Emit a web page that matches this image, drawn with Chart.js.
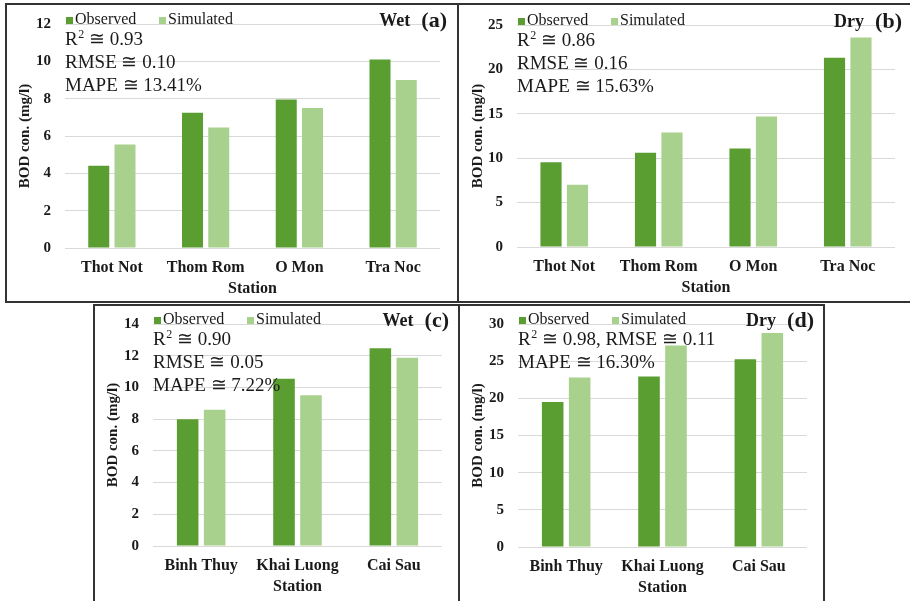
<!DOCTYPE html>
<html>
<head>
<meta charset="utf-8">
<script src="https://cdn.jsdelivr.net/npm/chart.js@4"></script>
<style>
  body { margin: 0; background: #fff; }
  #wrap { position: relative; width: 910px; height: 601px; overflow: hidden; }
  .frame { position: absolute; border: 2px solid #333; box-sizing: border-box; }
  canvas { position: absolute; }
</style>
</head>
<body>
<div id="wrap">
  <div class="frame" style="left:5px;top:3px;width:454px;height:300px"></div>
  <div class="frame" style="left:457px;top:3px;width:460px;height:300px"></div>
  <div class="frame" style="left:93px;top:304px;width:367px;height:302px"></div>
  <div class="frame" style="left:458px;top:304px;width:367px;height:302px"></div>
  <canvas id="chartA" width="450" height="296" style="left:7px;top:5px"></canvas>
  <canvas id="chartB" width="450" height="296" style="left:460px;top:5px"></canvas>
  <canvas id="chartC" width="363" height="295" style="left:95px;top:306px"></canvas>
  <canvas id="chartD" width="363" height="295" style="left:460px;top:306px"></canvas>
</div>
<script>
'use strict';

// data
const stationsTop = ['Thot Not', 'Thom Rom', 'O Mon', 'Tra Noc'];
const stationsBottom = ['Binh Thuy', 'Khai Luong', 'Cai Sau'];

const observedA = [4.4, 7.25, 7.95, 10.1];
const simulatedA = [5.55, 6.45, 7.5, 9.0];
const observedB = [9.55, 10.6, 11.1, 21.3];
const simulatedB = [7.0, 12.9, 14.7, 23.6];
const observedC = [8.0, 10.55, 12.47];
const simulatedC = [8.6, 9.5, 11.87];
const observedD = [19.5, 22.95, 25.25];
const simulatedD = [22.8, 27.1, 28.8];

const yMaxA = 12, yStepA = 2;
const yMaxB = 25, yStepB = 5;
const yMaxC = 14, yStepC = 2;
const yMaxD = 30, yStepD = 5;

const statsA = ['R² ≅ 0.93', 'RMSE ≅ 0.10', 'MAPE ≅ 13.41%'];
const statsB = ['R² ≅ 0.86', 'RMSE ≅ 0.16', 'MAPE ≅ 15.63%'];
const statsC = ['R² ≅ 0.90', 'RMSE ≅ 0.05', 'MAPE ≅ 7.22%'];
const statsD = ['R² ≅ 0.98, RMSE ≅ 0.11', 'MAPE ≅ 16.30%'];

const obsColor = '#5a9e32';
const simColor = '#a9d18e';
const serif = '"Liberation Serif", "Times New Roman", "DejaVu Serif", serif';
const textColor = '#1a1a1a';

// legend, stats and panel tag drawn inside the plot area
const notesPlugin = {
  id: 'notes',
  afterDraw(chart, args, opts) {
    const ctx = chart.ctx;
    const a = chart.chartArea;
    ctx.save();
    ctx.textAlign = 'left';
    ctx.textBaseline = 'alphabetic';
    ctx.fillStyle = textColor;

    // legend
    ctx.font = '16px ' + serif;
    [['Observed', obsColor, 0], ['Simulated', simColor, 93]].forEach(function (it) {
      ctx.fillStyle = it[1];
      ctx.fillRect(a.left + 1 + it[2], a.top - 7, 7, 7);
      ctx.fillStyle = textColor;
      ctx.fillText(it[0], a.left + 10 + it[2], a.top);
    });

    // statistics
    opts.stats.forEach(function (line, i) {
      const y = a.top + 21 + i * 23;
      let x = a.left;
      const parts = line.split('²');
      parts.forEach(function (p, j) {
        ctx.font = '19px ' + serif;
        ctx.fillText(p, x, y);
        x += ctx.measureText(p).width;
        if (j < parts.length - 1) {
          ctx.font = '12px ' + serif;
          ctx.fillText('2', x + 0.5, y - 7);
          x += ctx.measureText('2').width + 0.5;
        }
      });
    });

    // season + panel letter
    ctx.textAlign = 'right';
    ctx.font = 'bold 22px ' + serif;
    const tag = '(' + opts.letter + ')';
    const right = a.right + 7;
    ctx.fillText(tag, right, a.top + 3);
    const w = ctx.measureText(tag).width;
    ctx.font = 'bold 18px ' + serif;
    ctx.fillText(opts.season, right - w - 11, a.top + 2);
    ctx.restore();
  }
};

function noOverhang(s) {
  s.paddingTop = 0;
  s.paddingBottom = 0;
  s.paddingLeft = 0;
  s.paddingRight = 0;
}

function makePanel(id, labels, obs, sim, yMax, yStep, stats, season, letter, area) {
  const canvas = document.getElementById(id);
  const H = canvas.height, W = canvas.width;
  const xHeight = H - area.bottom;
  new Chart(canvas, {
    type: 'bar',
    data: {
      labels: labels,
      datasets: [
        { label: 'Observed', data: obs, backgroundColor: obsColor },
        { label: 'Simulated', data: sim, backgroundColor: simColor }
      ]
    },
    options: {
      responsive: false,
      animation: false,
      categoryPercentage: 0.56,
      barPercentage: 0.8,
      layout: { padding: { top: area.top, right: W - area.right, left: 0, bottom: 0 } },
      plugins: {
        legend: { display: false },
        tooltip: { enabled: false },
        notes: { stats: stats, season: season, letter: letter }
      },
      scales: {
        x: {
          grid: { display: false },
          border: { display: false },
          ticks: { color: textColor, padding: 2, maxRotation: 0, autoSkip: false,
                   font: { family: serif, size: 16, weight: 'bold' } },
          title: {
            display: true, text: 'Station', color: textColor,
            font: { family: serif, size: 16, weight: 'bold' },
            padding: { top: 0, bottom: xHeight - 41 - 9.6 }
          },
          afterFit: function (s) { s.height = xHeight; noOverhang(s); }
        },
        y: {
          min: 0, max: yMax,
          grid: { color: '#d9d9d9', drawTicks: false },
          border: { display: false },
          ticks: { stepSize: yStep, color: textColor, padding: 14, font: { family: serif, size: 15, weight: 'bold' } },
          title: {
            display: true, text: 'BOD con. (mg/l)', color: textColor,
            font: { family: serif, size: 15, weight: 'bold' },
            padding: { top: 9, bottom: 0 }
          },
          afterFit: function (s) { s.width = area.left; noOverhang(s); }
        }
      }
    },
    plugins: [notesPlugin]
  });
}

makePanel('chartA', stationsTop, observedA, simulatedA, yMaxA, yStepA, statsA, 'Wet', 'a',
  { left: 58, right: 433, top: 19, bottom: 243 });
makePanel('chartB', stationsTop, observedB, simulatedB, yMaxB, yStepB, statsB, 'Dry', 'b',
  { left: 57, right: 435, top: 20, bottom: 242 });
makePanel('chartC', stationsBottom, observedC, simulatedC, yMaxC, yStepC, statsC, 'Wet', 'c',
  { left: 58, right: 347, top: 18, bottom: 240 });
makePanel('chartD', stationsBottom, observedD, simulatedD, yMaxD, yStepD, statsD, 'Dry', 'd',
  { left: 58, right: 347, top: 18, bottom: 241 });
</script>
</body>
</html>
